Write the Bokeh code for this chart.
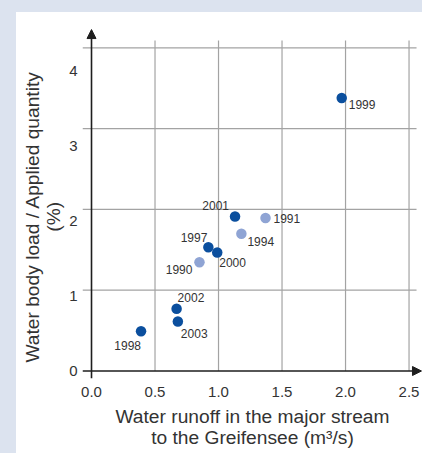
from bokeh.plotting import figure
from bokeh.layouts import column, row
from bokeh.models import (ColumnDataSource, Range1d, LinearAxis, FixedTicker, Arrow,
                          NormalHead, Div)
from bokeh.transform import factor_cmap
from bokeh.core.properties import value
from bokeh.embed import file_html
from bokeh.resources import INLINE

# ---------------- data ----------------
years = ["1990", "1991", "1994", "1997", "1998", "1999", "2000", "2001", "2002", "2003"]
runoff = [0.85, 1.37, 1.18, 0.92, 0.39, 1.97, 0.99, 1.13, 0.67, 0.68]          # m3/s
load_ratio = [1.45, 2.04, 1.83, 1.65, 0.53, 3.64, 1.58, 2.06, 0.83, 0.66]      # %
period = ["early", "early", "early", "late", "late", "late", "late", "late", "late", "late"]
x_ticks = [0.0, 0.5, 1.0, 1.5, 2.0, 2.5]
x_tick_labels = ["0.0", "0.5", "1.0", "1.5", "2.0", "2.5"]
y_ticks = [0, 1, 2, 3, 4]
grid_rows = [1, 2, 3, 4]

x_title = "Water runoff in the major stream\nto the Greifensee (m³/s)"
PAD = "\u00a0" * 5   # shifts the (rotated, centred) y title slightly downwards
y_title = "Water body load / Applied quantity" + PAD + "\n(%)" + PAD

# label placement (screen px) for the year labels
lab_align = ["right", "left", "left", "right", "right", "left", "left", "right", "left", "left"]
lab_dx = [-7, 8, 6, -1, 0, 7, 2, -6, 1, 3]
lab_dy = [7, 0, 8, -10, 14, 6, 10, -11, -11, 12]

# ---------------- style ----------------
FONT = "Liberation Sans"
DARK = "#0b4f9e"
LIGHT = "#8fa4d4"
BG = "#dce3ef"
GRID = "#a3a3a3"
AXIS = "#1e1e1e"
TXT = "#333333"

W, H = 406, 441
X0, X1 = -0.0709, 2.606
Y0, Y1 = -0.1, 4.567
G0, G1 = -0.0928, 4.239
X_GRID_END = 2.559
Y_GRID_TOP = 4.407
X_TIP = 2.598
Y_TIP = 4.553

p = figure(width=W, height=H, output_backend="svg", toolbar_location=None,
           x_range=Range1d(X0, X1), y_range=Range1d(Y0, Y1),
           x_axis_location=None, y_axis_location=None,
           min_border_left=66, min_border_right=0, min_border_top=16, min_border_bottom=75)
p.extra_y_ranges = {"grid": Range1d(G0, G1)}
p.grid.visible = False
p.outline_line_color = None
p.background_fill_color = "white"
p.border_fill_color = "white"

# axes (labels + titles only; axis lines drawn as arrows)
common = dict(axis_line_color=None, major_tick_line_color=None, minor_tick_line_color=None,
              major_tick_out=0, major_tick_in=0, minor_tick_out=0, minor_tick_in=0,
              major_label_text_font=FONT, major_label_text_font_size="15px",
              major_label_text_color=TXT,
              axis_label_text_font=FONT, axis_label_text_font_size="19.2px",
              axis_label_text_font_style="normal", axis_label_text_color=TXT,
              axis_label_text_line_height=1.0)
xaxis = LinearAxis(ticker=FixedTicker(ticks=x_ticks),
                   major_label_overrides={t: s for t, s in zip(x_ticks, x_tick_labels)},
                   major_label_standoff=8, axis_label=x_title, axis_label_standoff=6, **common)
p.add_layout(xaxis, "below")
yaxis = LinearAxis(ticker=FixedTicker(ticks=y_ticks),
                   major_label_standoff=5, axis_label=y_title, axis_label_standoff=2, **common)
p.add_layout(yaxis, "left")

# grid lines
vx = x_ticks[1:]
p.segment(x0=vx, y0=[0] * len(vx), x1=vx, y1=[Y_GRID_TOP] * len(vx),
          line_color=GRID, line_width=1.2)
p.segment(x0=[X0] * len(grid_rows), y0=grid_rows, x1=[X_GRID_END] * len(grid_rows), y1=grid_rows,
          line_color=GRID, line_width=1.2, y_range_name="grid")

# axis arrows
p.add_layout(Arrow(end=NormalHead(size=9, fill_color=AXIS, line_color=AXIS, line_width=1),
                   x_start=X0, y_start=0, x_end=X_TIP, y_end=0,
                   line_color=AXIS, line_width=1.6))
p.add_layout(Arrow(end=NormalHead(size=9, fill_color=AXIS, line_color=AXIS, line_width=1),
                   x_start=0, y_start=Y0, x_end=0, y_end=Y_TIP,
                   line_color=AXIS, line_width=1.6))

src = ColumnDataSource(dict(x=runoff, y=load_ratio, year=years, period=period,
                            align=lab_align, dx=lab_dx, dy=lab_dy))
p.scatter("x", "y", source=src, size=10.5, line_color=None,
          fill_color=factor_cmap("period", [LIGHT, DARK], ["early", "late"]))
p.text("x", "y", text="year", source=src, x_offset="dx", y_offset="dy",
       text_align="align", text_baseline="middle",
       text_font=value(FONT), text_font_size="12px", text_color=TXT)

# blue-grey frame strips around the white panel
top_strip = Div(text="", width=422, height=12, margin=0, styles={"background-color": BG})
left_strip = Div(text="", width=16, height=H, margin=0, styles={"background-color": BG})
layout = column(top_strip, row(left_strip, p, spacing=0, margin=0), spacing=0, margin=0)

open("out.html", "w").write(file_html(layout, INLINE))
